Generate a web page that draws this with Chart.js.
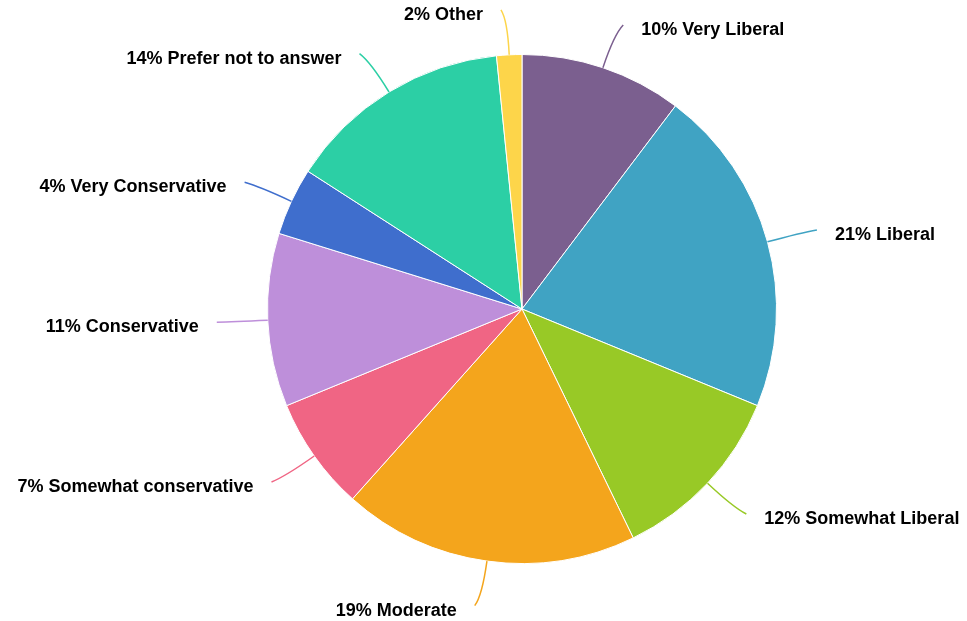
<!DOCTYPE html>
<html>
<head>
<meta charset="utf-8">
<script src="https://cdn.jsdelivr.net/npm/chart.js@4.4.0/dist/chart.umd.min.js"></script>
<style>
  html, body { margin: 0; padding: 0; background: #fff; }
  #chart { display: block; }
</style>
</head>
<body>
<canvas id="chart" width="967" height="621"></canvas>
<script>
const labels = ['Very Liberal', 'Liberal', 'Somewhat Liberal', 'Moderate', 'Somewhat conservative',
                'Conservative', 'Very Conservative', 'Prefer not to answer', 'Other'];
const shares = [10.3, 20.9, 11.6, 18.8, 7.2, 11.0, 4.3, 14.3, 1.6];
const colors = ['#7b5f8f', '#40a3c3', '#98c926', '#f4a51c', '#f06584',
                '#be8fda', '#3f6ecd', '#2ccfa5', '#fdd54a'];

// outside labels with curved leader lines
const calloutPlugin = {
    id: 'callouts',
    afterDatasetsDraw(chart) {
        const ctx = chart.ctx;
        const meta = chart.getDatasetMeta(0);
        ctx.save();
        meta.data.forEach((arc, i) => {
            const mid = (arc.startAngle + arc.endAngle) / 2;
            const r = arc.outerRadius;
            const cos = Math.cos(mid), sin = Math.sin(mid);
            const right = cos >= 0;
            const side = right ? 1 : -1;

            const x0 = arc.x + cos * r, y0 = arc.y + sin * r;
            const cx = arc.x + cos * (r + 35), cy = arc.y + sin * (r + 35);
            const x1 = arc.x + cos * (r + 45) + side * 6, y1 = arc.y + sin * (r + 45);

            ctx.beginPath();
            ctx.moveTo(x0, y0);
            ctx.quadraticCurveTo(cx, cy, x1, y1);
            ctx.strokeStyle = colors[i];
            ctx.lineWidth = 1.5;
            ctx.stroke();

            ctx.font = 'bold 18px "Liberation Sans", Arial, sans-serif';
            ctx.fillStyle = '#000';
            ctx.textBaseline = 'middle';
            ctx.textAlign = right ? 'left' : 'right';
            const text = Math.round(shares[i]) + '% ' + labels[i];
            ctx.fillText(text, x1 + side * 18, y1 + 5);
        });
        ctx.restore();
    }
};

new Chart(document.getElementById('chart').getContext('2d'), {
    type: 'pie',
    data: {
        labels: labels,
        datasets: [{
            data: shares,
            backgroundColor: colors,
            borderColor: '#ffffff',
            borderWidth: 1
        }]
    },
    options: {
        responsive: false,
        animation: false,
        layout: { padding: { top: 54, bottom: 57, left: 267, right: 190 } },
        plugins: {
            legend: { display: false },
            tooltip: { enabled: false }
        }
    },
    plugins: [calloutPlugin]
});
</script>
</body>
</html>
